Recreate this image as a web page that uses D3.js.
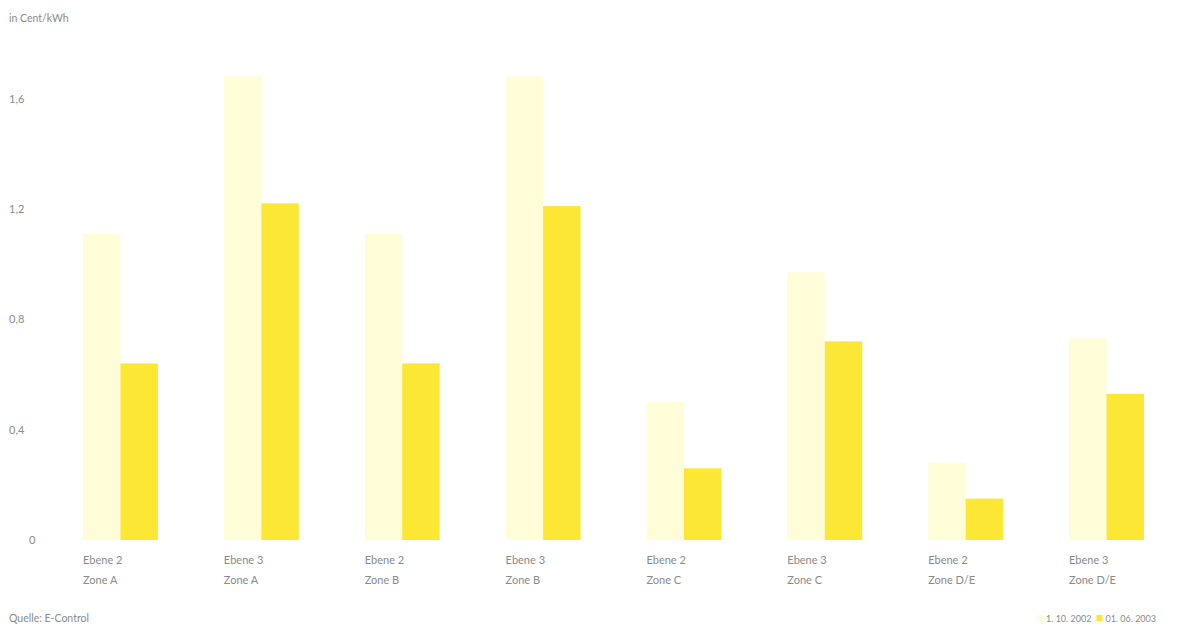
<!DOCTYPE html>
<html>
<head>
<meta charset="utf-8">
<script src="https://cdn.jsdelivr.net/npm/d3@7"></script>
<style>
  html, body { margin: 0; padding: 0; background: #fff; }
  svg { display: block; }
  text { font-family: Lato, "Open Sans", sans-serif; fill: #8a8a8a; }
</style>
</head>
<body>
<script>
// Netznutzungsentgelte je Netzebene und Zone, in Cent/kWh
const levels = ["Ebene 2", "Ebene 3", "Ebene 2", "Ebene 3", "Ebene 2", "Ebene 3", "Ebene 2", "Ebene 3"];
const zones  = ["Zone A", "Zone A", "Zone B", "Zone B", "Zone C", "Zone C", "Zone D/E", "Zone D/E"];
const series = ["1. 10. 2002", "01. 06. 2003"];
const values2002 = [1.11, 1.68, 1.11, 1.68, 0.50, 0.97, 0.28, 0.73];
const values2003 = [0.64, 1.22, 0.64, 1.21, 0.26, 0.72, 0.15, 0.53];
const yTicks = [0, 0.4, 0.8, 1.2, 1.6];
const unitLabel = "in Cent/kWh";
const sourceLabel = "Quelle: E-Control";
const colors = ["#fefdd8", "#fce734"];

const W = 1180, H = 627;
const svg = d3.select("body").append("svg").attr("width", W).attr("height", H);

const cats = d3.range(levels.length);
const x0 = d3.scaleBand().domain(cats).range([83, 1144]).paddingInner(0.468).paddingOuter(0);
const x1 = d3.scaleBand().domain([0, 1]).range([0, x0.bandwidth()]).padding(0);
const y = d3.scaleLinear().domain([0, 1.6]).range([540, 98.5]);

// Einheit
svg.append("text").attr("x", 9).attr("y", 22)
  .attr("font-size", 10.5).text(unitLabel);

// y-Achse (nur Beschriftungen)
const fmt = v => v === 0 ? "0" : d3.format(".1f")(v).replace(".", ",");
const yAxis = d3.axisLeft(y).tickValues(yTicks).tickFormat(fmt).tickSize(0).tickPadding(0);
const gy = svg.append("g").attr("transform", "translate(9,0)").call(yAxis);
gy.select(".domain").remove();
gy.selectAll("text")
  .attr("text-anchor", "start")
  .attr("x", d => d === 0 ? 20 : 0)
  .attr("font-size", 11)
  .style("font-family", "Lato, 'Open Sans', sans-serif")
  .attr("fill", "#8a8a8a");

// Balken
const data = cats.map(i => [values2002[i], values2003[i]]);
const groups = svg.append("g").selectAll("g").data(data).join("g")
  .attr("transform", (d, i) => `translate(${x0(i)},0)`);
groups.selectAll("rect").data(d => d.map((v, k) => ({ v, k }))).join("rect")
  .attr("x", d => x1(d.k))
  .attr("width", x1.bandwidth())
  .attr("y", d => y(d.v))
  .attr("height", d => y(0) - y(d.v))
  .attr("fill", d => colors[d.k]);

// Kategorien
const gx = svg.append("g");
cats.forEach(i => {
  gx.append("text").attr("x", x0(i)).attr("y", 564).attr("font-size", 11).text(levels[i]);
  gx.append("text").attr("x", x0(i)).attr("y", 584).attr("font-size", 11).text(zones[i]);
});

// Quelle
svg.append("text").attr("x", 9).attr("y", 622).attr("font-size", 10.5).text(sourceLabel);

// Legende: Farbfeld + Datum, nebeneinander
const legend = svg.append("g").attr("transform", "translate(0,622)");
let lx = 1037;
series.forEach((label, k) => {
  legend.append("rect").attr("x", lx).attr("y", -7).attr("width", 6).attr("height", 6).attr("fill", colors[k]);
  const t = legend.append("text").attr("x", lx + 9).attr("y", 0).attr("font-size", 9).text(label);
  lx += 9 + t.node().getComputedTextLength() + 5;
});
</script>
</body>
</html>
